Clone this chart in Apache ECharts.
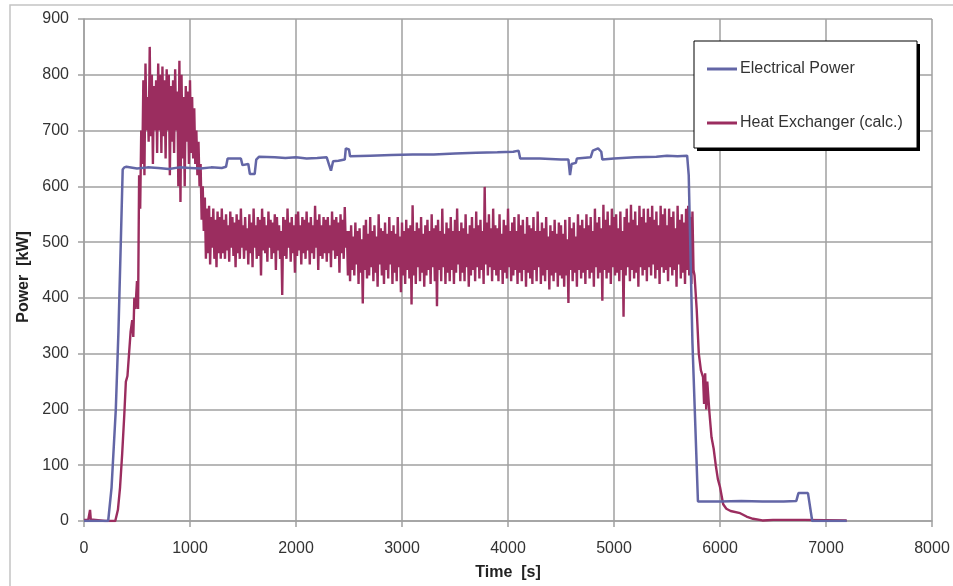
<!DOCTYPE html>
<html>
<head>
<meta charset="utf-8">
<script src="https://cdn.jsdelivr.net/npm/echarts@6/dist/echarts.min.js"></script>
<style>
html,body{margin:0;padding:0;background:#fff;}
#chart{width:953px;height:586px;}
</style>
</head>
<body>
<div id="chart"></div>
<script>
// ---- Data ----
var seriesNames = ['Electrical Power', 'Heat Exchanger (calc.)'];
var xTicks = [0, 1000, 2000, 3000, 4000, 5000, 6000, 7000, 8000];
var yTicks = [0, 100, 200, 300, 400, 500, 600, 700, 800, 900];

// Electrical power (time [s], power [kW])
var elecTime = [0, 228, 260, 300, 325, 350, 365, 380, 400, 500, 600, 700, 800, 900, 1000, 1100, 1200, 1300, 1340, 1355, 1480, 1495, 1550, 1565, 1610, 1625, 1650, 1800, 1900, 2000, 2100, 2200, 2290, 2310, 2330, 2350, 2400, 2460, 2470, 2500, 2510, 2700, 2900, 3100, 3300, 3500, 3700, 3900, 4050, 4100, 4115, 4300, 4500, 4570, 4585, 4600, 4640, 4650, 4780, 4800, 4850, 4880, 4890, 5000, 5200, 5400, 5500, 5600, 5690, 5705, 5740, 5792, 5800, 6000, 6200, 6400, 6600, 6720, 6740, 6830, 6870, 7195];
var elecPower = [0, 0, 60, 200, 340, 520, 630, 634, 635, 632, 634, 633, 631, 634, 633, 632, 634, 633, 635, 650, 650, 638, 640, 622, 622, 648, 653, 652, 651, 652, 650, 651, 652, 640, 628, 645, 646, 648, 668, 666, 654, 655, 656, 657, 657, 659, 660, 661, 662, 664, 650, 650, 648, 648, 620, 640, 642, 650, 652, 664, 668, 662, 648, 650, 652, 653, 655, 654, 655, 620, 320, 35, 36, 35, 36, 35, 35, 36, 50, 50, 0, 0];

// Heat exchanger: start-up part (time [s], power [kW])
var hxStartTime = [0, 40, 50, 57, 64, 75, 200, 295, 320, 340, 360, 380, 395, 410, 425, 440, 455, 465, 475, 485];
var hxStartPower = [2, 2, 3, 20, 3, 0, 0, 0, 20, 60, 120, 190, 250, 260, 300, 340, 360, 330, 400, 380];

// Heat exchanger: operating part, fluctuating readings.
// Upper swings every 20 s from 500 s, lower swings every 20 s from 510 s.
var hxRunStart = 500;
var hxRunStep = 20;
var hxRunHigh = [
  430, 620, 700, 790, 820, 760, 850, 800, 780, 790,
  820, 800, 815, 790, 810, 800, 780, 790, 810, 770,
  825, 800, 760, 780, 770, 790, 760, 740, 700, 680,
  640, 600, 580, 560, 565, 545, 560, 540, 555, 545,
  560, 540, 550, 530, 555, 545, 535, 550, 540, 560,
  530, 545, 525, 550, 535, 560, 530, 545, 540, 560,
  545, 530, 555, 540, 535, 550, 545, 530, 520, 545,
  540, 560, 535, 545, 530, 550, 555, 530, 545, 540,
  555, 535, 545, 530, 565, 540, 550, 530, 545, 540,
  545, 530, 555, 540, 545, 535, 550, 540, 563, 520,
  520, 530, 510, 535, 520, 525, 505, 530, 540, 515,
  545, 520, 530, 510, 550, 525, 520, 535, 515, 545,
  520, 530, 515, 545, 510, 535, 520, 540, 525, 530,
  566, 520, 535, 525, 545, 515, 530, 540, 520, 550,
  525, 530, 540, 520, 560, 515, 535, 525, 545, 520,
  540, 560, 520, 535, 525, 550, 515, 530, 545, 525,
  555, 530, 540, 520, 599, 535, 550, 525, 560, 530,
  525, 550, 515, 540, 530, 560, 520, 535, 545, 520,
  550, 530, 540, 515, 545, 530, 525, 545, 520, 555,
  520, 535, 525, 545, 510, 530, 520, 540, 515, 535,
  530, 515, 540, 505, 545, 525, 535, 510, 550, 530,
  540, 525, 550, 530, 545, 520, 560, 535, 545, 525,
  567, 540, 555, 530, 560, 545, 550, 525, 555, 520,
  545, 560, 535, 567, 540, 555, 530, 565, 545, 560,
  535, 560, 545, 565, 540, 555, 530, 565, 550, 560,
  530, 560, 545, 555, 525, 565, 540, 550, 535, 560,
  565, 545, 555
];
var hxRunLow = [
  380, 560, 640, 620, 700, 680, 690, 640, 700, 660,
  700, 660, 690, 650, 700, 620, 680, 660, 700, 600,
  572, 650, 600, 680, 640, 660, 650, 640, 620, 600,
  540, 520, 470, 480, 460, 490, 470, 455, 480, 470,
  480, 470, 485, 465, 490, 475, 455, 480, 470, 490,
  470, 485, 460, 480, 455, 490, 470, 475, 440, 485,
  480, 465, 490, 470, 480, 450, 485, 470, 405, 475,
  470, 490, 465, 480, 445, 475, 485, 460, 480, 470,
  485, 460, 480, 470, 490, 450, 475, 470, 480, 465,
  480, 455, 485, 470, 475, 445, 480, 470, 490, 440,
  430, 450, 440, 460, 425, 445, 390, 450, 435, 440,
  455, 430, 445, 420, 460, 440, 425, 450, 435, 460,
  425, 445, 430, 455, 410, 440, 425, 450, 435, 388,
  440, 425, 455, 430, 445, 420, 440, 450, 425, 455,
  430, 385, 450, 430, 455, 425, 445, 430, 450, 425,
  445, 460, 430, 445, 430, 455, 420, 440, 450, 430,
  455, 435, 450, 425, 460, 440, 455, 430, 450, 440,
  430, 450, 425, 445, 435, 455, 430, 440, 450, 425,
  445, 430, 450, 420, 445, 435, 425, 450, 430, 455,
  425, 440, 430, 450, 415, 440, 430, 445, 420, 440,
  435, 420, 440, 391, 450, 430, 445, 420, 450, 435,
  445, 425, 450, 435, 445, 420, 455, 435, 445, 395,
  450, 435, 445, 425, 455, 440, 445, 430, 450, 366,
  440, 455, 430, 450, 435, 445, 420, 455, 440, 450,
  430, 455, 440, 460, 435, 450, 425, 455, 445, 450,
  430, 455, 440, 450, 420, 460, 435, 445, 425, 450,
  440, 425, 450
];

// Heat exchanger: shut-down part (time [s], power [kW])
var hxEndTime = [5760, 5780, 5800, 5820, 5840, 5850, 5860, 5870, 5880, 5900, 5920, 5940, 5960, 5980, 6000, 6030, 6060, 6100, 6190, 6250, 6311, 6400, 6500, 6800, 7195];
var hxEndPower = [440, 380, 300, 270, 258, 210, 265, 200, 250, 195, 150, 130, 100, 75, 61, 30, 22, 18, 14, 8, 4, 1, 2, 2, 1];

// ---- Build series data ----
function pairs(t, v) { var out = []; for (var i = 0; i < t.length; i++) out.push([t[i], v[i]]); return out; }
var elecData = pairs(elecTime, elecPower);
var hxData = pairs(hxStartTime, hxStartPower);
for (var i = 0; i < hxRunHigh.length; i++) {
  hxData.push([hxRunStart + i * hxRunStep, hxRunHigh[i]]);
  hxData.push([hxRunStart + i * hxRunStep + hxRunStep / 2, hxRunLow[i]]);
}
hxData = hxData.concat(pairs(hxEndTime, hxEndPower));

var BLUE = '#6366a6', RED = '#9b2d5f', GRID = '#a0a0a0', TXT = '#333333';
var FONT = '"Liberation Sans", Arial, sans-serif';

var chart = echarts.init(document.getElementById('chart'), null, { renderer: 'canvas' });
chart.setOption({
  animation: false,
  backgroundColor: '#ffffff',
  textStyle: { fontFamily: FONT },
  graphic: [
    { type: 'rect', z: 0, shape: { x: 10, y: 5, width: 960, height: 600 }, style: { fill: 'none', stroke: '#c4c4c4', lineWidth: 1.5 } },
    { type: 'rect', z: 10, shape: { x: 697, y: 44, width: 223, height: 107 }, style: { fill: '#000' } },
    { type: 'rect', z: 10, shape: { x: 694, y: 41, width: 223, height: 107 }, style: { fill: '#fff', stroke: '#000', lineWidth: 1 } }
  ],
  legend: {
    z: 20,
    orient: 'vertical',
    left: 707,
    top: 59,
    padding: 0,
    itemGap: 34,
    itemWidth: 30,
    itemHeight: 3,
    icon: 'rect',
    textStyle: { fontFamily: FONT, fontSize: 16, lineHeight: 20, color: TXT, padding: [0, 0, 0, -2] },
    data: seriesNames
  },
  grid: { left: 84, right: 21, top: 19, bottom: 65, containLabel: false },
  xAxis: {
    type: 'value', min: 0, max: 8000, interval: 1000,
    name: 'Time  [s]', nameLocation: 'middle', nameGap: 44,
    nameTextStyle: { fontFamily: FONT, fontSize: 16, fontWeight: 'bold', color: '#222' },
    axisLine: { show: true, lineStyle: { color: GRID, width: 1.5 } },
    axisTick: { show: true, length: 6, lineStyle: { color: GRID, width: 1.5 } },
    axisLabel: { fontFamily: FONT, fontSize: 16, color: TXT, margin: 20,
      formatter: function (v) { return xTicks.indexOf(v) >= 0 ? String(v) : ''; } },
    splitLine: { show: true, lineStyle: { color: GRID, width: 1.5 } }
  },
  yAxis: {
    type: 'value', min: 0, max: 900, interval: 100,
    name: 'Power  [kW]', nameLocation: 'middle', nameGap: 39,
    nameTextStyle: { fontFamily: FONT, fontSize: 16, fontWeight: 'bold', color: '#222', padding: [0, 0, 0, -14] },
    axisLine: { show: true, lineStyle: { color: GRID, width: 1.5 } },
    axisTick: { show: true, length: 6, lineStyle: { color: GRID, width: 1.5 } },
    axisLabel: { fontFamily: FONT, fontSize: 16, color: TXT, margin: 15,
      formatter: function (v) { return yTicks.indexOf(v) >= 0 ? String(v) : ''; } },
    splitLine: { show: true, lineStyle: { color: GRID, width: 1.5 } }
  },
  series: [
    { name: seriesNames[0], type: 'line', data: elecData, symbol: 'none', z: 3,
      lineStyle: { color: BLUE, width: 2.5 }, itemStyle: { color: BLUE } },
    { name: seriesNames[1], type: 'line', data: hxData, symbol: 'none', z: 2,
      lineStyle: { color: RED, width: 2.4 }, itemStyle: { color: RED } }
  ]
});
</script>
</body>
</html>
